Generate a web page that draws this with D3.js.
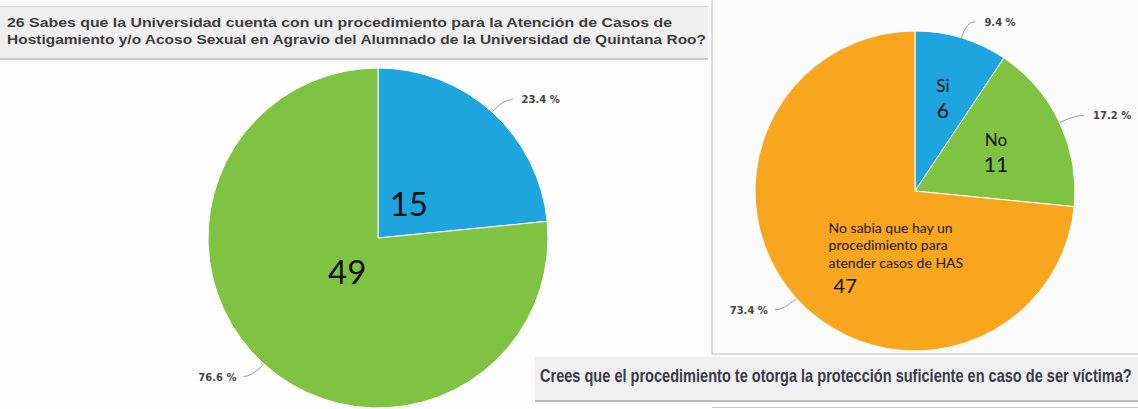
<!DOCTYPE html>
<html>
<head>
<meta charset="utf-8">
<script src="https://cdn.jsdelivr.net/npm/d3@7"></script>
<style>
  body { margin: 0; background: #fdfdfd; }
</style>
</head>
<body>
<div id="chart-area"></div>
<script>
// DATA

let leftCats = ["Si", "No"]
let leftValues = [15, 49]
let leftPct = ["23.4 %", "76.6 %"]

let rightCats = ["Si", "No", "No sabia que hay un procedimiento para atender casos de HAS"]
let rightValues = [6, 11, 47]
let rightPct = ["9.4 %", "17.2 %", "73.4 %"]

let title1 = "26 Sabes que la Universidad cuenta con un procedimiento para la Atención de Casos de"
let title2 = "Hostigamiento y/o Acoso Sexual en Agravio del Alumnado de la Universidad de Quintana Roo?"
let caption = "Crees que el procedimiento te otorga la protección suficiente en caso de ser víctima?"

let blue = "#1ea5de"
let green = "#80c342"
let orange = "#f9a61f"

let svg = d3.select("#chart-area").append("svg")
            .attr("width", 1138)
            .attr("height", 409)
            .style("display", "block")

// panels / boxes
svg.append("rect")
    .attr("x", 712).attr("y", -2)
    .attr("width", 430).attr("height", 356)
    .attr("fill", "#fbfbfb")
    .attr("stroke", "#bdbdbd")

svg.append("line")
    .attr("x1", 712).attr("x2", 1138)
    .attr("y1", 407.5).attr("y2", 407.5)
    .attr("stroke", "#c4c4c4")

svg.append("rect")
    .attr("x", 0).attr("y", 6)
    .attr("width", 708).attr("height", 53)
    .attr("fill", "#efefef")
svg.append("line")
    .attr("x1", 0).attr("x2", 708).attr("y1", 6.5).attr("y2", 6.5)
    .attr("stroke", "#d6d6d6")
svg.append("line")
    .attr("x1", 0).attr("x2", 708).attr("y1", 59).attr("y2", 59)
    .attr("stroke", "#c9c9c9").attr("stroke-width", 2)

svg.append("text")
    .attr("x", 7).attr("y", 27)
    .attr("textLength", 665).attr("lengthAdjust", "spacingAndGlyphs")
    .attr("font-family", "Liberation Sans, Arial, sans-serif")
    .attr("font-weight", "bold").attr("font-size", 13.5)
    .attr("fill", "#3d3d3d")
    .text(title1)
svg.append("text")
    .attr("x", 7).attr("y", 44)
    .attr("textLength", 699).attr("lengthAdjust", "spacingAndGlyphs")
    .attr("font-family", "Liberation Sans, Arial, sans-serif")
    .attr("font-weight", "bold").attr("font-size", 13.5)
    .attr("fill", "#3d3d3d")
    .text(title2)

// PIE HELPERS

let pie = d3.pie().sort(null).value(d => d)

function leader(g, d, r, i, txt) {
  let mid = (d.startAngle + d.endAngle) / 2
  let p0 = [Math.sin(mid) * r, -Math.cos(mid) * r]
  let p1 = [Math.sin(mid) * (r + 17), -Math.cos(mid) * (r + 17)]
  let right = Math.sin(mid) > 0
  let p2 = [p1[0] + (right ? 9 : -9), p1[1]]
  g.append("path")
    .attr("d", "M" + p0 + "Q" + p1 + " " + p2)
    .attr("fill", "none")
    .attr("stroke", "#9a9a9a")
    .attr("stroke-width", 1)
  g.append("text")
    .attr("x", p2[0] + (right ? 9 : -7))
    .attr("y", p2[1] + 4)
    .attr("text-anchor", right ? "start" : "end")
    .attr("font-family", "DejaVu Sans, sans-serif")
    .attr("font-weight", "bold")
    .attr("font-size", 10)
    .attr("fill", "#454545")
    .text(txt)
}

// LEFT PIE

let rL = 170
let gL = svg.append("g").attr("transform", "translate(378,238)")
let arcL = d3.arc().innerRadius(0).outerRadius(rL)
let lblL = d3.arc().innerRadius(rL * 0.27).outerRadius(rL * 0.27)
let colorL = d3.scaleOrdinal().domain(leftCats).range([blue, green])

let slicesL = gL.selectAll("path.slice")
                .data(pie(leftValues))
slicesL.enter()
    .append("path")
    .attr("class", "slice")
    .attr("d", arcL)
    .attr("fill", (d, i) => colorL(leftCats[i]))
    .attr("stroke", "#ffffff")
    .attr("stroke-width", 1)

pie(leftValues).forEach((d, i) => {
  let c = lblL.centroid(d)
  gL.append("text")
    .attr("x", c[0]).attr("y", c[1])
    .attr("dy", "0.36em")
    .attr("text-anchor", "middle")
    .attr("font-family", "Lato, Open Sans, sans-serif")
    .attr("font-size", 33)
    .attr("fill", "#111")
    .text(d.data)
  leader(gL, d, rL, i, leftPct[i])
})

// RIGHT PIE

let rR = 160
let gR = svg.append("g").attr("transform", "translate(915,191)")
let arcR = d3.arc().innerRadius(0).outerRadius(rR)
let colorR = d3.scaleOrdinal().domain(rightCats).range([blue, green, orange])
let lblR = [0.6, 0.56]

let slicesR = gR.selectAll("path.slice")
                .data(pie(rightValues))
slicesR.enter()
    .append("path")
    .attr("class", "slice")
    .attr("d", arcR)
    .attr("fill", (d, i) => colorR(rightCats[i]))
    .attr("stroke", "#ffffff")
    .attr("stroke-width", 1)

pie(rightValues).forEach((d, i) => {
  leader(gR, d, rR, i, rightPct[i])
  if (i < 2) {
    let c = d3.arc().innerRadius(rR * lblR[i]).outerRadius(rR * lblR[i]).centroid(d)
    gR.append("text")
      .attr("x", c[0]).attr("y", c[1] - 7)
      .attr("text-anchor", "middle")
      .attr("font-family", "Lato, Open Sans, sans-serif")
      .attr("font-size", 17)
      .attr("fill", "#111")
      .text(rightCats[i])
    gR.append("text")
      .attr("x", c[0]).attr("y", c[1] + 19)
      .attr("text-anchor", "middle")
      .attr("font-family", "Lato, Open Sans, sans-serif")
      .attr("font-size", 21)
      .attr("fill", "#111")
      .text(d.data)
  } else {
    let words = ["No sabia que hay un", "procedimiento para", "atender casos de HAS"]
    let x0 = -rR * 0.54
    let y0 = rR * 0.26
    words.forEach((w, k) => {
      gR.append("text")
        .attr("x", x0).attr("y", y0 + k * 17.5)
        .attr("font-family", "Lato, Open Sans, sans-serif")
        .attr("font-size", 14)
        .attr("fill", "#1a1a1a")
        .text(w)
    })
    gR.append("text")
      .attr("x", x0 + 5).attr("y", y0 + 60)
      .attr("font-family", "Lato, Open Sans, sans-serif")
      .attr("font-size", 20)
      .attr("fill", "#111")
      .text(d.data)
  }
})

// bottom caption (condensed by scaling the text horizontally)
svg.append("rect")
    .attr("x", 535).attr("y", 357)
    .attr("width", 603).attr("height", 43)
    .attr("fill", "#f0f0f0")
svg.append("line")
    .attr("x1", 535).attr("x2", 1138).attr("y1", 401).attr("y2", 401)
    .attr("stroke", "#bcbcbc").attr("stroke-width", 2)
let cap = svg.append("text")
    .attr("x", 0).attr("y", 0)
    .attr("font-family", "Liberation Sans, Arial, sans-serif")
    .attr("font-weight", "bold")
    .attr("font-size", 18)
    .attr("fill", "#3b3b48")
    .text(caption)
let capW = cap.node().getComputedTextLength()
cap.attr("transform", "translate(540,382) scale(" + (592 / capW) + ",1)")
</script>
</body>
</html>
